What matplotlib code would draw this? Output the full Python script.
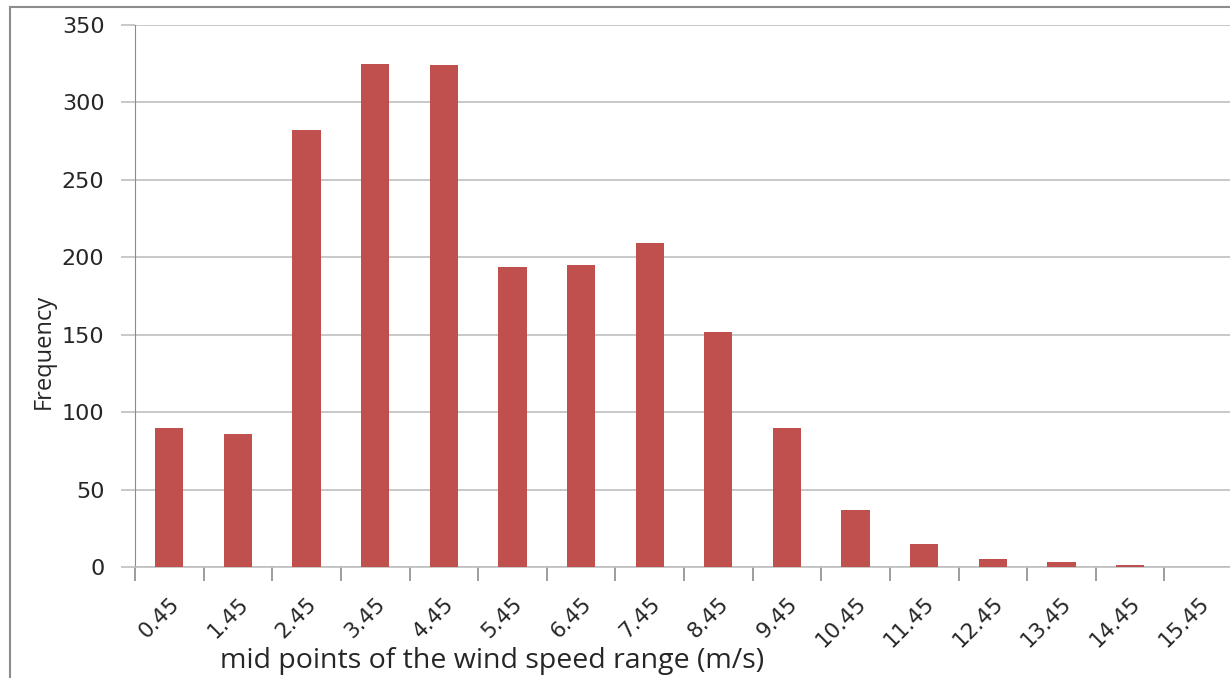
import numpy as np
import matplotlib.pyplot as plt
from matplotlib.patches import Rectangle
from matplotlib.transforms import ScaledTranslation

# wind speed bin mid points and their counts
mid_points = ["0.45", "1.45", "2.45", "3.45", "4.45", "5.45", "6.45", "7.45",
              "8.45", "9.45", "10.45", "11.45", "12.45", "13.45", "14.45", "15.45"]
frequency = [90, 86, 282, 325, 324, 194, 195, 209, 152, 90, 37, 15, 5, 3, 1, 0]

W, H = 1230, 678
fig = plt.figure(figsize=(W / 100, H / 100), dpi=100)

# outer chart frame (cropped at right and bottom, like the source image)
fig.patches.append(Rectangle((10 / W, -0.1), 2.0, 1 - 7 / H + 0.1,
                             transform=fig.transFigure, fill=False,
                             edgecolor="#8c8c8c", linewidth=1.5))

ax = fig.add_axes([135 / W, 1 - 567 / H, (1233 - 135) / W, (567 - 25) / H])

x = np.arange(len(mid_points))
ax.bar(x, frequency, width=0.41, color="#C0504D", zorder=3)

ax.set_xlim(-0.5, len(mid_points) - 0.5)
ax.set_ylim(0, 350)
ax.set_yticks(np.arange(0, 351, 50))
ax.yaxis.grid(True, color="#bfbfbf", linewidth=1.2, zorder=0)

for side in ("top", "right"):
    ax.spines[side].set_visible(False)
ax.spines["left"].set_color("#8c8c8c")
ax.spines["bottom"].set_color("#bfbfbf")
ax.spines["bottom"].set_linewidth(1.2)

txt_color = "#262626"
ax.set_xticks(x)
ax.set_xticklabels(mid_points, rotation=45, ha="right", va="top",
                   rotation_mode="anchor", fontsize=15.5, color=txt_color,
                   family=["DejaVu Sans"])
shift = ScaledTranslation(-11 / 100, 0, fig.dpi_scale_trans)
for lbl in ax.get_xticklabels():
    lbl.set_transform(lbl.get_transform() + shift)
ax.set_xticks(np.arange(-0.5, len(mid_points), 1), minor=True)
ax.tick_params(axis="x", which="major", length=0, pad=19)
ax.tick_params(axis="x", which="minor", length=10, color="#8c8c8c", width=1.2)
ax.tick_params(axis="y", length=10, color="#bfbfbf", width=1.2,
               labelsize=16, pad=12, labelcolor=txt_color)

ax.set_ylabel("Frequency", fontsize=17, color=txt_color,
              family=["Open Sans", "DejaVu Sans"])
ax.yaxis.set_label_coords(-0.072, 0.397)
ax.set_xlabel("mid points of the wind speed range (m/s)", fontsize=20.5,
              color=txt_color, family=["Open Sans", "DejaVu Sans"])
ax.xaxis.set_label_coords(0.325, -0.2)
ax.xaxis.label.set_va("bottom")

fig.savefig("out.png", dpi=100)
